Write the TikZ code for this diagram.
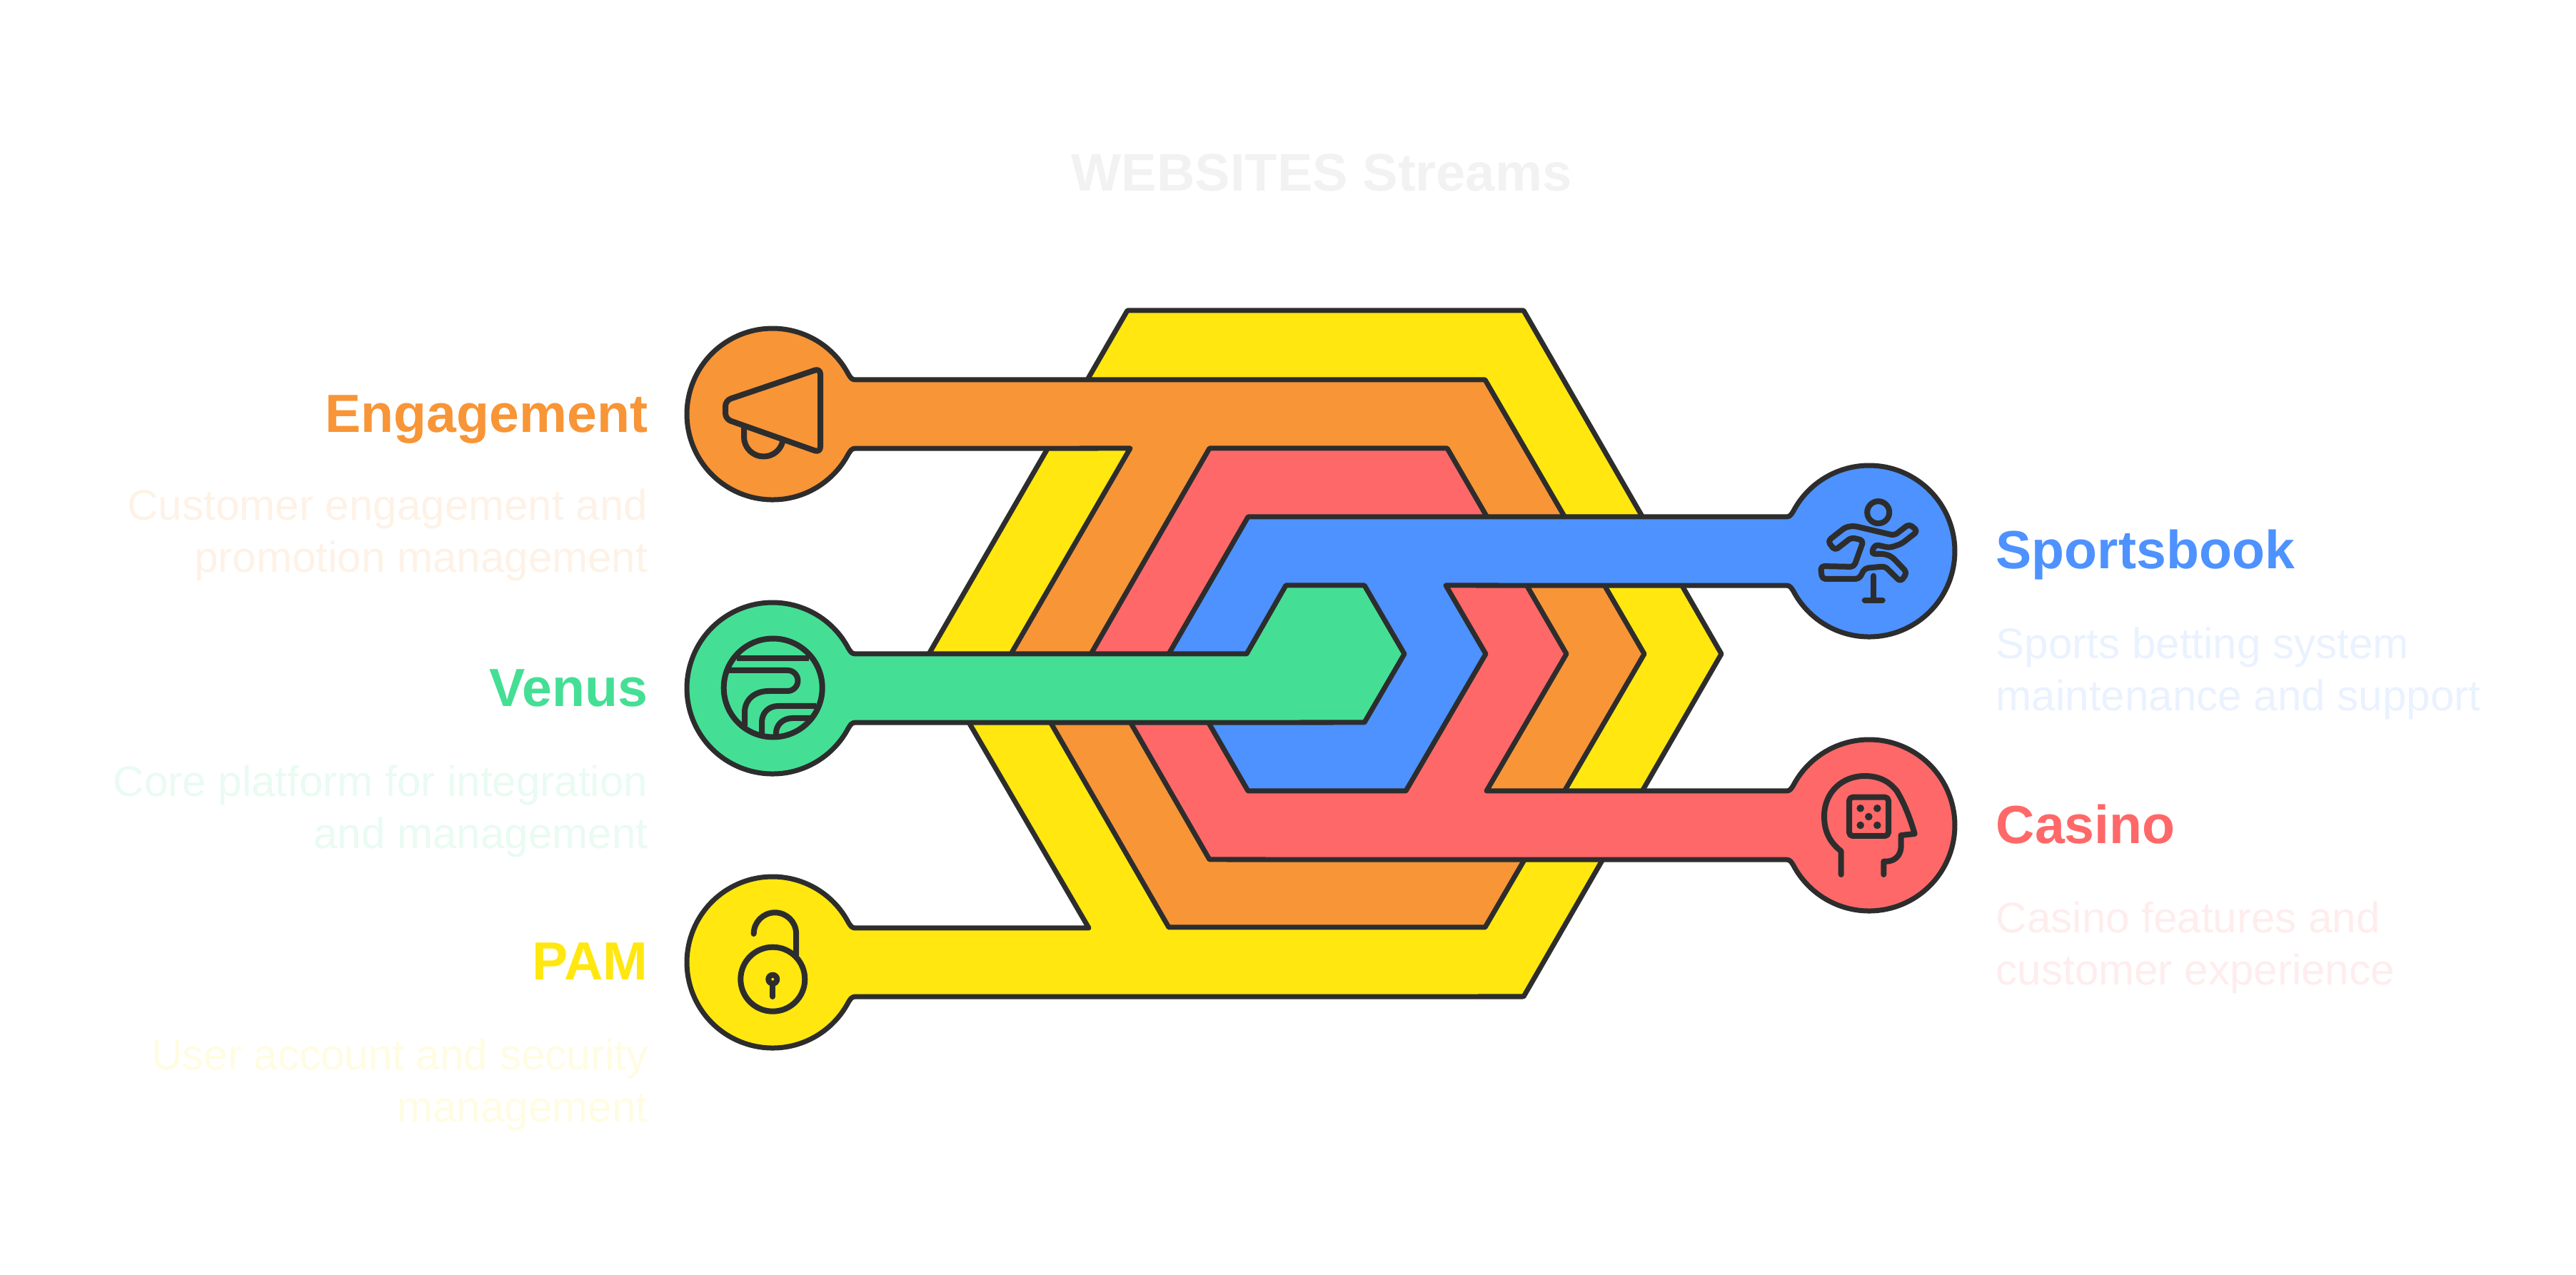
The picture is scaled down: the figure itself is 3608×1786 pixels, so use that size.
\documentclass[tikz,border=0pt]{standalone}
\usepackage{fontspec}
\setmainfont{Liberation Sans}
\usepackage{xcolor}
\usepackage{tikz}
\definecolor{inkline}{HTML}{2d2d2d}
\definecolor{pamyellow}{HTML}{ffe70f}
\definecolor{engorange}{HTML}{f89537}
\definecolor{casinored}{HTML}{ff6868}
\definecolor{sportblue}{HTML}{4d92ff}
\definecolor{venusgreen}{HTML}{44df95}

\begin{document}
\begin{tikzpicture}[x=0.01cm, y=-0.01cm,
  band/.style={draw=inkline, line width=0.07cm, line join=round},
  icon/.style={draw=inkline, line width=0.08cm, line cap=round, line join=round},
  headtxt/.style={font=\fontsize{21.4}{25}\selectfont\bfseries},
  notetxt/.style={font=\fontsize{17.1}{20.8}\selectfont, align=#1}]

\useasboundingbox (0,0) rectangle (3608,1786);

% circle with its neck, entered from the tail's upper edge
\def\leftbulb{.. controls +(-5,0) and +(3,5) .. ++(-10,-8.3)
  arc[start angle=-28, end angle=-332, radius=120] .. controls +(3,-5) and +(-5,0) .. ++(10,-8.3)}
\def\rightbulb{.. controls +(5,0) and +(-3,5) .. ++(10,-8.3)
  arc[start angle=208, end angle=512, radius=120] .. controls +(-3,-5) and +(5,0) .. ++(-10,-8.3)}

\node[anchor=base, font=\fontsize{21.1}{25}\selectfont\bfseries, text=black!5] (title) at (1851,268) {WEBSITES Streams};

% yellow ring, tail to the lower left circle
\path[band, fill=pamyellow] (1198,1300) \leftbulb
  -- (2134,1396) -- (2411,916) -- (2134,435) -- (1579,435) -- (1301,916) -- (1525,1300) -- cycle;

% orange ring, tail to the upper left circle
\path[band, fill=engorange] (1198,532) \leftbulb
  -- (1583,628) -- (1416,916) -- (1637,1299) -- (2080,1299) -- (2303,916) -- (2080,532) -- cycle;

% red ring, tail to the lower right circle
\path[band, fill=casinored] (2502,1108) \rightbulb
  -- (1694,1204) -- (1528,916) -- (1694,628) -- (2027,628) -- (2194,916) -- (2082,1108) -- cycle;

% blue ring, tail to the upper right circle
\path[band, fill=sportblue] (2502,724) \rightbulb
  -- (2025,820) -- (2081,916) -- (1969,1108) -- (1748,1108) -- (1637,916) -- (1748,724) -- cycle;

% green core, tail to the middle left circle
\path[band, fill=venusgreen] (1198,916) \leftbulb
  -- (1911,1012) -- (1967,916) -- (1911,820) -- (1801,820) -- (1746,916) -- cycle;

% megaphone
\draw[icon, rounded corners=0.08cm] (1149,516) -- (1149,634) -- (1016,587) -- (1016,561) -- cycle;
\draw[icon, line cap=butt] (1042,597) -- (1042,612) arc[start angle=180, end angle=10, radius=27.5];

% globe
\draw[icon] (1082.7,963.5) circle (69);
\draw[icon, line cap=butt] (1032,922) -- (1133,922);
\draw[icon, line cap=butt] (1021,939) -- (1103,939) arc[start angle=-90, end angle=90, radius=14.5]
  -- (1077,968) .. controls (1057,968) and (1043,980) .. (1043,998) -- (1043,1017);
\draw[icon, line cap=butt] (1143,989) -- (1090,989) .. controls (1076,989) and (1067,999) .. (1067,1012) -- (1067,1028);
\draw[icon, line cap=butt] (1137,1006) -- (1110,1006) .. controls (1097,1006) and (1087,1015) .. (1087,1027) -- (1087,1030);

% open lock
\draw[icon] (1082.3,1371.7) circle (45);
\draw[icon] (1055.7,1308) arc[start angle=180, end angle=360, radius=29.7] -- (1115,1338);
\draw[icon] (1082.3,1371.7) circle (6);
\draw[icon] (1082.3,1382) -- (1082.3,1396);

% runner and hurdle
\draw[icon] (2630.7,717.7) circle (15.5);
\draw[icon, rounded corners=0.05cm] (2560,758) -- (2585,738.3) -- (2596.7,736.7) -- (2653.3,750)
  -- (2674,734) -- (2686,744) -- (2663.3,761.7) -- (2646.7,767.3) -- (2626,762.7) -- (2621,776)
  -- (2640,776) -- (2650,780) -- (2671,802) -- (2662,815) -- (2640,793.3) -- (2611.7,796)
  -- (2604,811) -- (2552,811) -- (2550,793) -- (2596.7,794) -- (2610,757) -- (2593,753) -- (2570,771) -- cycle;
\draw[icon] (2624.3,806.7) -- (2624.3,840.7);
\draw[icon] (2611.7,840.7) -- (2636.7,840.7);

% head with die
\draw[icon] (2578.7,1225) -- (2578.7,1192.3) .. controls (2563,1180) and (2555,1165) .. (2555,1143.3)
  .. controls (2555,1110) and (2580,1087) .. (2611.7,1087) .. controls (2635,1087) and (2648,1097) .. (2656.7,1108)
  .. controls (2667,1125) and (2675,1145) .. (2681.7,1168) -- (2662.7,1170) -- (2662.7,1185)
  .. controls (2662.7,1198) and (2654,1206.7) .. (2641.7,1206.7) -- (2638.3,1206.7) -- (2638.3,1225);
\draw[icon, rounded corners=0.05cm] (2590,1116.7) rectangle (2645,1171);
\foreach \px/\py in {2605.7/1132.3, 2629.3/1132.3, 2617.3/1144, 2605.7/1156, 2629.3/1156}
  \fill[inkline] (\px,\py) circle (5.3);

% labels on the left
\foreach \id/\lab/\note/\yl/\yn/\col in {eng/Engagement/{Customer engagement and\\promotion management}/606/802/engorange,
    ven/Venus/{Core platform for integration\\and management}/990/1189/venusgreen,
    pam/PAM/{User account and security\\management}/1373/1572/pamyellow}{
  \node[headtxt, anchor=base east, inner sep=0pt, text=\col] (\id lab) at (908,\yl) {\lab};
  \node[notetxt=right, anchor=base east, inner sep=0pt, text=\col!12!white] (\id note) at (908,\yn) {\note};
}

% labels on the right
\foreach \id/\lab/\note/\yl/\yn/\col in {spo/Sportsbook/{Sports betting system\\maintenance and support}/797/996/sportblue,
    cas/Casino/{Casino features and\\customer experience}/1182/1380/casinored}{
  \node[headtxt, anchor=base west, inner sep=0pt, text=\col] (\id lab) at (2795,\yl) {\lab};
  \node[notetxt=left, anchor=base west, inner sep=0pt, text=\col!12!white] (\id note) at (2795,\yn) {\note};
}

\end{tikzpicture}
\end{document}
